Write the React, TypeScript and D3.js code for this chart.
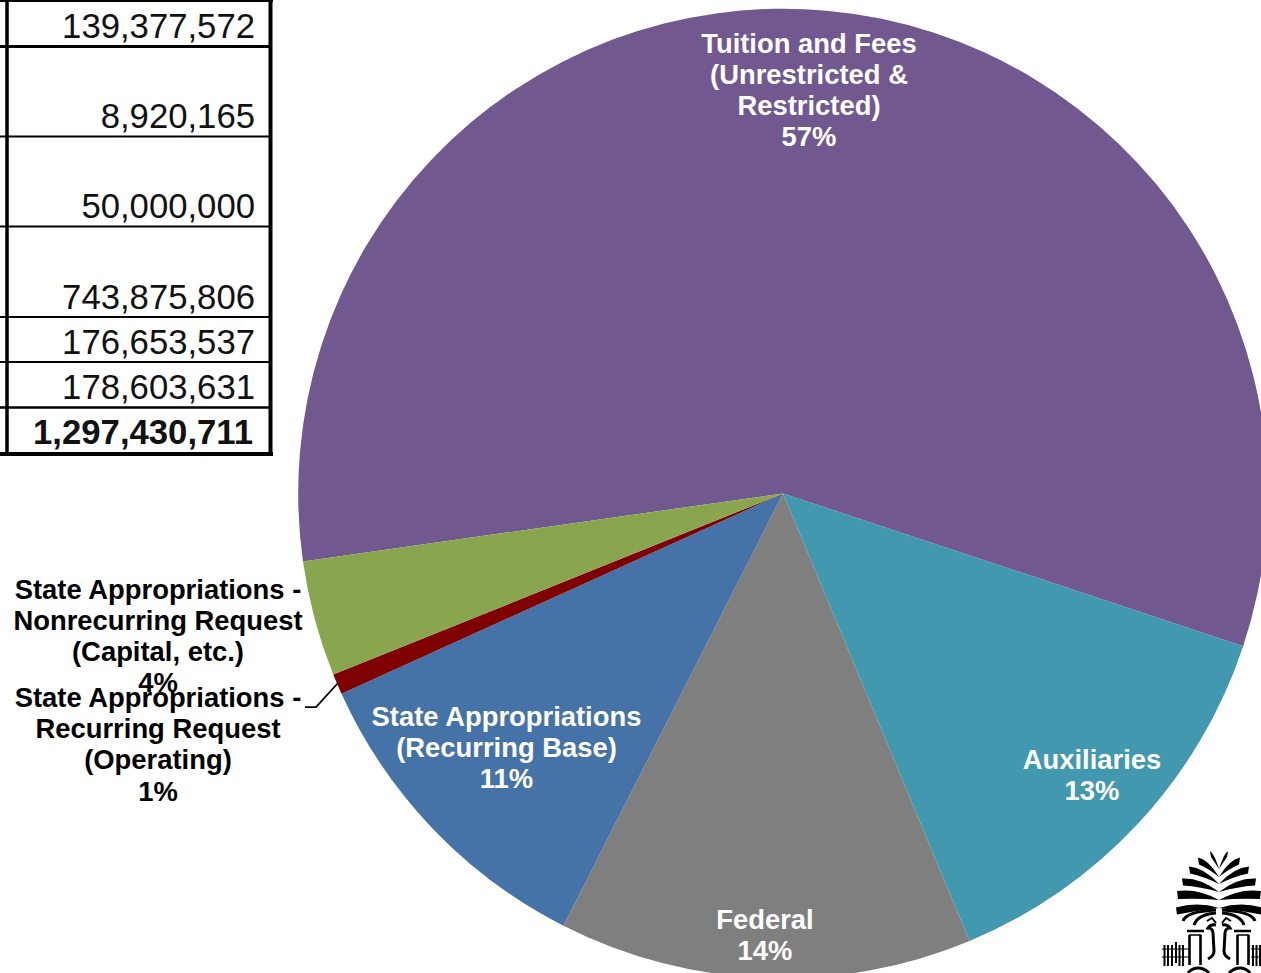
import React from "react";
import * as d3 from "d3";

const W = 1261;
const H = 973;

const sliceNames = ["Tuition and Fees", "Auxiliaries", "Federal", "State Appropriations - Recurring Base", "State Appropriations - Recurring Request", "State Appropriations - Nonrecurring Request"];
const sliceValues = [743875806, 176653537, 178603631, 139377572, 8920165, 50000000];
const sliceColors = ["#71588f", "#4198af", "#7f7f7f", "#4572a7", "#7f0000", "#89a54e"];

const tableTexts = ["139,377,572", "8,920,165", "50,000,000", "743,875,806", "176,653,537", "178,603,631", "1,297,430,711"];
const tableBaselines = [38, 128, 218, 309, 354, 399, 444];
const tableRules = [46.5, 136.5, 226.5, 317, 362, 407.5];
const ruleWidths = [3, 2, 2, 2, 2, 2.5];

const labelLines = [
  ["Tuition and Fees", "(Unrestricted &", "Restricted)", "57%"],
  ["Auxiliaries", "13%"],
  ["Federal", "14%"],
  ["State Appropriations", "(Recurring Base)", "11%"],
  ["State Appropriations -", "Recurring Request", "(Operating)", "1%"],
  ["State Appropriations -", "Nonrecurring Request", "(Capital, etc.)", "4%"],
];
const labelX = [809, 1092, 765, 506.5, 158, 158];
const labelY = [53, 769, 929, 726, 707, 599];
const labelFill = ["#fff", "#fff", "#fff", "#fff", "#000", "#000"];

const leader: [number, number][] = [[305, 707], [316, 707], [338, 683]];

// Palm-logo fronds, left half, mirrored about the axis: [tipDx, tipY, baseY, width, arch]
const fronds: [number, number, number, number, number][] = [
  [-9, 854, 869, 6, 0],
  [-21, 861, 877, 7, 1],
  [-30, 870, 884, 7, 2],
  [-37, 882, 892, 7, 4],
  [-42, 895, 900, 8, 6],
  [-43, 911, 908, 7, 9],
];
const logoArcs = [
  "M1183 921C1185 915 1195 911 1216 910",
  "M1194 925C1196 919 1203 914 1216 913",
];
const fenceLeft = [1164.5, 1168, 1172, 1176, 1179.5, 1183];
const fenceRight = [1253, 1256.5, 1260];

function frondPath(f: [number, number, number, number, number], axis: number, m: number) {
  const [dx, tipY, baseY, w, arch] = f;
  const tx = axis + m * dx;
  const cxTop = axis + m * dx * 0.5;
  const p = d3.path();
  p.moveTo(axis, baseY);
  p.quadraticCurveTo(cxTop, tipY - w / 2 - arch + 3, tx, tipY - w / 2);
  p.lineTo(tx + m * 1, tipY + w / 2);
  p.quadraticCurveTo(cxTop, tipY + w / 2 - arch + 5, axis, baseY);
  p.closePath();
  return p.toString();
}

function Logo() {
  const axis = 1219;
  return (
    <g>
      {[-1, 1].map((m) => fronds.map((f, i) => <path key={`${m}-${i}`} d={frondPath(f, axis, m)} fill="#000" />))}
      {[false, true].map((mir) => (
        <g key={String(mir)} transform={mir ? `translate(${2 * axis},0) scale(-1,1)` : undefined} fill="none" stroke="#000">
          {logoArcs.map((d) => <path key={d} d={d} strokeWidth={3} />)}
          <path d="M1216 925c-4-1-7 1-8 3 3 0 5 2 5 5l1 18c0 4-2 6-6 8" strokeWidth={3} />
          <path d="M1207 921l5-3 4 5" strokeWidth={2} />
          <path d="M1187 931h17" strokeWidth={2.5} />
          <path d="M1189 935h12" strokeWidth={1.5} />
          <path d="M1189.5 935v30M1200.5 935v30" strokeWidth={2.6} />
          <path d="M1188 973c3-4 6-5 10-5 5 0 8 2 11 5" strokeWidth={3} />
        </g>
      ))}
      <g stroke="#000" fill="none">
        {fenceLeft.map((x, i) => <path key={x} d={`M${x} ${i === 3 ? 942 : 945}v21`} strokeWidth={2} />)}
        {fenceRight.map((x) => <path key={x} d={`M${x} 945v21`} strokeWidth={2} />)}
        <path d="M1162 949h26M1162 957h26M1251 949h10M1251 957h10" strokeWidth={1} />
      </g>
    </g>
  );
}

export default function App() {
  const cx = 783;
  const cy = 493.5;
  const radius = 484.8;
  const start = (-98.05 * Math.PI) / 180;
  const pie = d3.pie<number>().sort(null).startAngle(start).endAngle(start + 2 * Math.PI);
  const arc = d3.arc<d3.PieArcDatum<number>>().innerRadius(0).outerRadius(radius);
  const arcs = pie(sliceValues);

  return (
    <svg width={W} height={H} viewBox={`0 0 ${W} ${H}`} style={{ position: "absolute", left: 0, top: 0, display: "block", background: "#fff" }} fontFamily="'Liberation Sans', Arial, sans-serif">
      {/* Table */}
      <g stroke="#000">
        <line x1={0} x2={273} y1={1} y2={1} strokeWidth={2} />
        {tableRules.map((y, i) => <line key={y} x1={0} x2={272} y1={y} y2={y} strokeWidth={ruleWidths[i]} />)}
        <line x1={0} x2={273} y1={454} y2={454} strokeWidth={4} />
        <line x1={7} x2={7} y1={0} y2={455} strokeWidth={3.5} />
        <line x1={270.5} x2={270.5} y1={0} y2={456} strokeWidth={4} />
      </g>
      {tableTexts.map((t, i) => (
        <text key={t} x={i === 6 ? 253 : 255} y={tableBaselines[i]} textAnchor="end" fontSize={34.7} fontWeight={i === 6 ? 700 : 400} fill="#111">{t}</text>
      ))}

      {/* Pie */}
      <g transform={`translate(${cx},${cy})`}>
        {arcs.map((a, i) => (
          <path key={sliceNames[i]} d={arc(a) ?? ""} fill={sliceColors[i]} />
        ))}
      </g>

      {/* Leader */}
      <path d={d3.line()(leader) ?? ""} fill="none" stroke="#000" strokeWidth={1.75} />

      {/* Labels */}
      {labelLines.map((lines, i) => (
        <text key={i} textAnchor="middle" fontSize={27.4} fontWeight={700} fill={labelFill[i]}>
          {lines.map((l, j) => (
            <tspan key={j} x={labelX[i]} y={labelY[i] + j * 31 + (i === 4 && j === 3 ? 1 : 0)}>{l}</tspan>
          ))}
        </text>
      ))}

      <Logo />
    </svg>
  );
}
